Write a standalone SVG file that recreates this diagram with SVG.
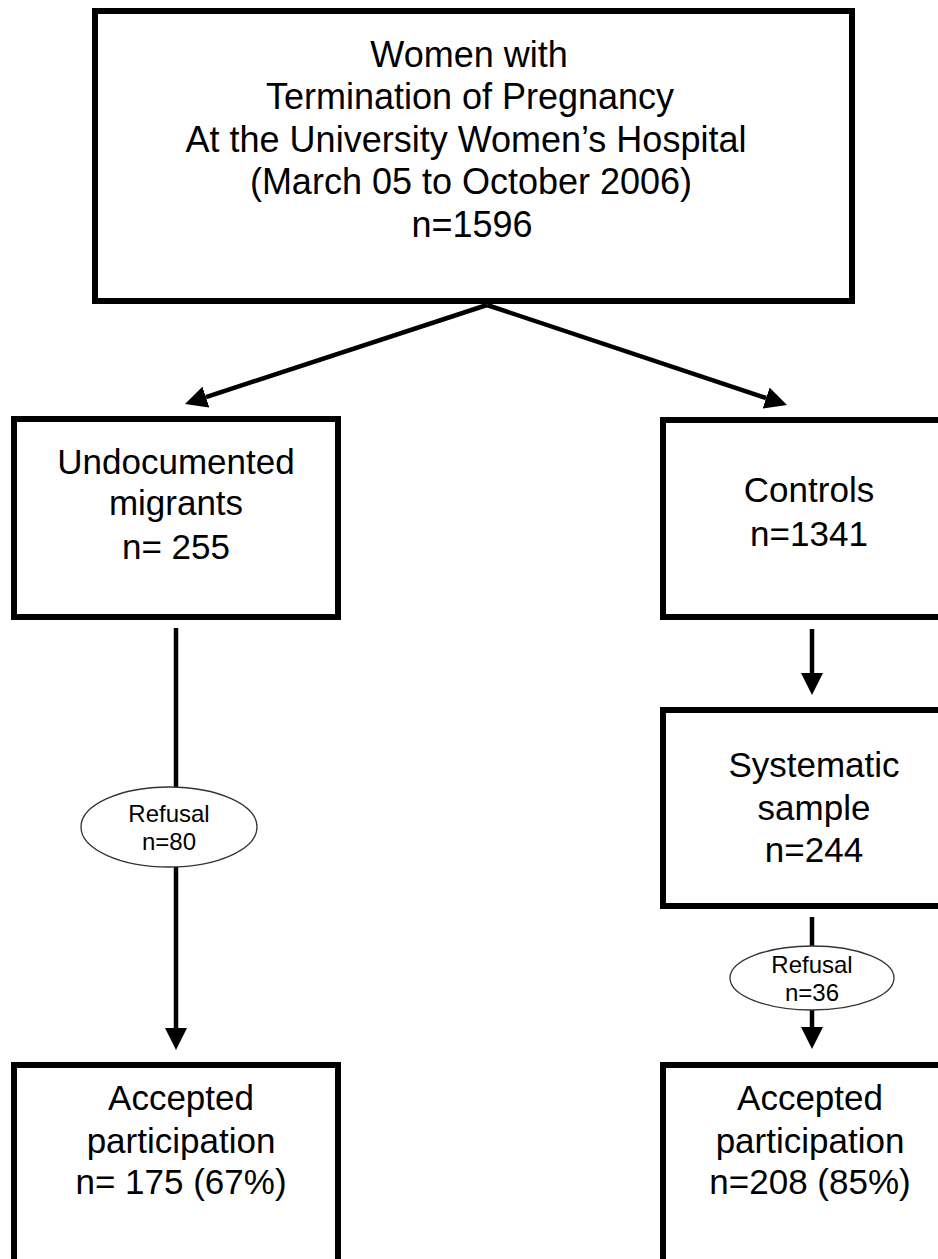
<svg xmlns="http://www.w3.org/2000/svg" width="938" height="1259" viewBox="0 0 938 1259">
<defs>
<style>
.box{fill:#fff;stroke:#000;stroke-width:6}
.oval{fill:#fff;stroke:#333;stroke-width:1.3}
.conn{fill:none;stroke:#000;stroke-width:4.5}
.t{font-family:"Liberation Sans",Arial,sans-serif;font-size:35px;fill:#000;text-anchor:middle}
.tt{font-family:"Liberation Sans",Arial,sans-serif;font-size:36px;fill:#000;text-anchor:middle}
.s{font-family:"Liberation Sans",Arial,sans-serif;font-size:24px;fill:#000;text-anchor:middle}
</style>
<marker id="ah" viewBox="0 0 22 22" refX="0" refY="11" markerWidth="22" markerHeight="22" markerUnits="userSpaceOnUse" orient="auto">
<path d="M0,0 L22,11 L0,22 z" fill="#000"/>
</marker>
</defs>
<rect width="938" height="1259" fill="#fff"/>
<g id="connectors">
<line class="conn" x1="487" y1="305" x2="205.9" y2="397.1" marker-end="url(#ah)"/>
<line class="conn" x1="487" y1="305" x2="766.1" y2="398" marker-end="url(#ah)"/>
<line class="conn" x1="176" y1="628" x2="176" y2="1028" marker-end="url(#ah)"/>
<line class="conn" x1="812" y1="629" x2="812" y2="673" marker-end="url(#ah)"/>
<line class="conn" x1="812" y1="917" x2="812" y2="1027" marker-end="url(#ah)"/>
</g>
<g id="top">
<rect class="box" x="95" y="11" width="757" height="290"/>
<text class="tt" x="469" y="67">Women with</text>
<text class="tt" x="470" y="109">Termination of Pregnancy</text>
<text class="tt" x="466" y="152">At the University Women’s Hospital</text>
<text class="tt" x="471" y="194">(March 05 to October 2006)</text>
<text class="tt" x="472" y="237">n=1596</text>
</g>
<g id="migrants">
<rect class="box" x="14" y="419" width="324" height="198"/>
<text class="t" x="176" y="474">Undocumented</text>
<text class="t" x="176" y="515">migrants</text>
<text class="t" x="176" y="559">n= 255</text>
</g>
<g id="controls">
<rect class="box" x="663" y="420" width="300" height="197"/>
<text class="t" x="809" y="502">Controls</text>
<text class="t" x="809" y="546">n=1341</text>
</g>
<g id="refusal80">
<ellipse class="oval" cx="169" cy="827" rx="88" ry="40"/>
<text class="s" x="169" y="822">Refusal</text>
<text class="s" x="169" y="850">n=80</text>
</g>
<g id="systematic">
<rect class="box" x="663" y="710" width="300" height="196"/>
<text class="t" x="814" y="777">Systematic</text>
<text class="t" x="814" y="820">sample</text>
<text class="t" x="814" y="862">n=244</text>
</g>
<g id="refusal36">
<ellipse class="oval" cx="812" cy="978" rx="82" ry="32"/>
<text class="s" x="812" y="973">Refusal</text>
<text class="s" x="812" y="1001">n=36</text>
</g>
<g id="accepted-migrants">
<rect class="box" x="14" y="1065" width="324" height="220"/>
<text class="t" x="181" y="1110">Accepted</text>
<text class="t" x="181" y="1153">participation</text>
<text class="t" x="181" y="1194">n= 175 (67%)</text>
</g>
<g id="accepted-controls">
<rect class="box" x="663" y="1065" width="300" height="220"/>
<text class="t" x="810" y="1110">Accepted</text>
<text class="t" x="810" y="1153">participation</text>
<text class="t" x="810" y="1194">n=208 (85%)</text>
</g>
</svg>
